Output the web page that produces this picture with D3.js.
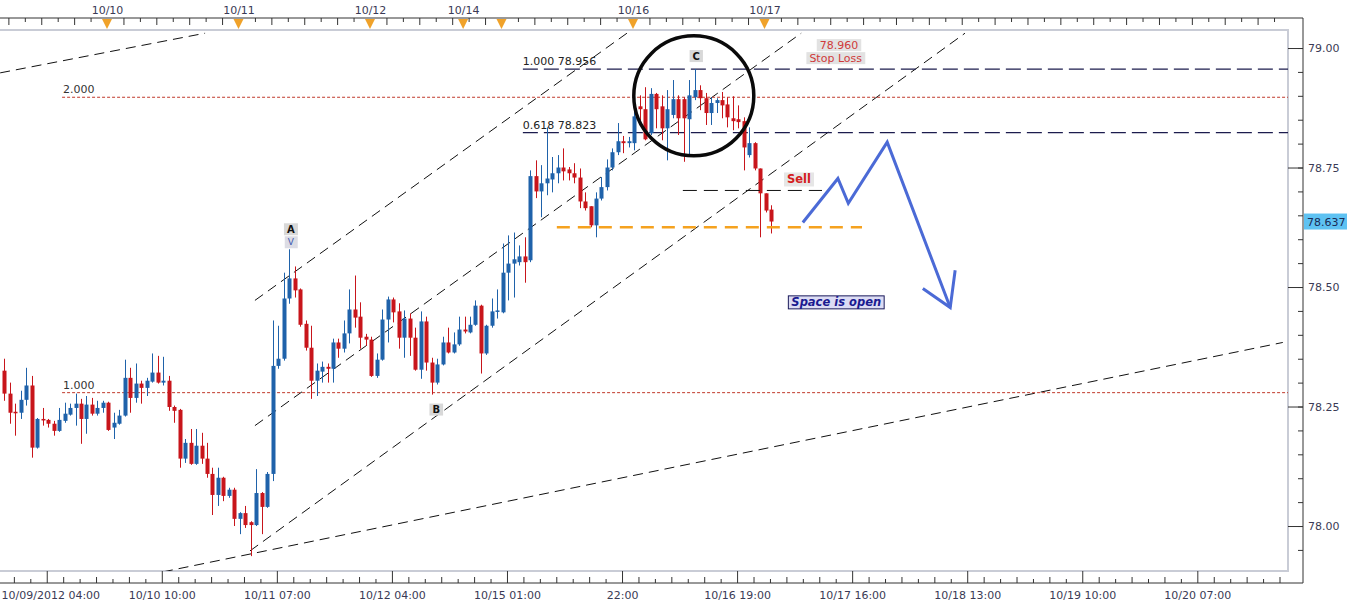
<!DOCTYPE html>
<html><head><meta charset="utf-8">
<script src="https://cdn.jsdelivr.net/npm/d3@7"></script>
<style>
body{margin:0;background:#fff;}
svg{display:block;font-family:"DejaVu Sans",Verdana,sans-serif;}
</style>
</head><body>
<svg id="chart" width="1360" height="608"></svg>
<script>
// ---------------- DATA ----------------
const firstSlot = -19; // hourly slot index of first candle (slot 0 = 10/10 00:00, weekend collapsed)
const openV  = [78.325,78.277,78.239,78.237,78.264,78.294,78.164,78.224,78.222,78.214,78.199,78.220,78.233,78.247,78.256,78.224,78.254,78.235,78.247,
78.258,78.206,78.214,78.231,78.310,78.268,78.298,78.289,78.302,78.321,78.300,78.304,78.249,78.243,78.141,78.174,78.130,78.168,78.141,78.109,
78.065,78.101,78.063,78.076,78.015,78.027,78.008,78.002,78.069,78.040,78.109,78.335,78.350,78.476,78.518,78.495,78.423,78.373,78.304,78.323,
78.333,78.329,78.384,78.371,78.403,78.453,78.438,78.396,78.390,78.314,78.348,78.432,78.474,78.449,78.394,78.434,78.394,78.327,78.428,78.342,
78.300,78.338,78.384,78.363,78.380,78.411,78.405,78.421,78.461,78.361,78.419,78.449,78.447,78.530,78.549,78.552,78.564,78.556,78.732,78.700,
78.717,78.725,78.738,78.750,78.746,78.738,78.729,78.679,78.669,78.629,78.685,78.709,78.750,78.782,78.805,78.801,78.801,78.878,78.872,78.822,
78.904,78.878,78.832,78.860,78.893,78.893,78.851,78.897,78.912,78.895,78.864,78.885,78.891,78.882,78.853,78.851,78.847,78.776,78.801,78.748,
78.696,78.662];
const highV  = [78.350,78.300,78.256,78.283,78.331,78.314,78.226,78.247,78.224,78.220,78.247,78.258,78.256,78.277,78.266,78.272,78.268,78.262,78.262,
78.260,78.237,78.243,78.348,78.331,78.340,78.304,78.310,78.361,78.356,78.354,78.314,78.252,78.245,78.182,78.203,78.203,78.195,78.174,78.122,
78.122,78.103,78.080,78.080,78.029,78.042,78.010,78.119,78.071,78.113,78.430,78.419,78.530,78.579,78.543,78.497,78.430,78.419,78.340,78.344,
78.340,78.392,78.392,78.430,78.495,78.524,78.468,78.402,78.396,78.361,78.453,78.480,78.478,78.466,78.451,78.445,78.415,78.449,78.438,78.352,
78.350,78.396,78.415,78.405,78.438,78.438,78.438,78.472,78.463,78.421,78.476,78.495,78.591,78.608,78.614,78.587,78.604,78.744,78.765,78.755,
78.834,78.772,78.776,78.790,78.751,78.759,78.748,78.698,78.669,78.698,78.730,78.767,78.790,78.843,78.816,78.814,78.874,78.901,78.918,78.916,
78.906,78.901,78.912,78.933,78.901,78.897,78.933,78.956,78.922,78.906,78.897,78.895,78.908,78.897,78.899,78.880,78.855,78.834,78.803,78.748,
78.696,78.671];
const lowV   = [78.262,78.214,78.189,78.224,78.252,78.143,78.162,78.210,78.206,78.189,78.197,78.216,78.231,78.210,78.172,78.193,78.231,78.231,78.237,
78.199,78.182,78.212,78.229,78.237,78.258,78.256,78.272,78.300,78.298,78.294,78.241,78.216,78.122,78.132,78.128,78.128,78.130,78.101,78.023,
78.042,78.052,78.059,78.000,77.983,77.996,77.937,78.000,77.983,78.038,78.094,78.329,78.346,78.465,78.478,78.417,78.367,78.266,78.272,78.300,
78.300,78.300,78.352,78.363,78.382,78.415,78.371,78.377,78.312,78.310,78.346,78.384,78.426,78.371,78.352,78.356,78.325,78.308,78.325,78.275,
78.296,78.336,78.361,78.361,78.377,78.403,78.403,78.419,78.319,78.358,78.415,78.434,78.445,78.472,78.478,78.545,78.509,78.552,78.686,78.646,
78.692,78.698,78.717,78.723,78.723,78.717,78.665,78.660,78.625,78.604,78.681,78.702,78.744,78.776,78.780,78.792,78.786,78.849,78.807,78.818,
78.832,78.807,78.765,78.853,78.818,78.762,78.772,78.891,78.870,78.839,78.839,78.864,78.853,78.834,78.828,78.832,78.744,78.771,78.744,78.604,
78.656,78.612];
const closeV = [78.277,78.237,78.237,78.264,78.294,78.164,78.224,78.222,78.214,78.199,78.222,78.235,78.247,78.256,78.224,78.254,78.235,78.247,78.258,
78.201,78.216,78.231,78.310,78.268,78.298,78.289,78.304,78.321,78.300,78.304,78.249,78.241,78.141,78.174,78.130,78.168,78.141,78.109,78.065,
78.101,78.063,78.076,78.015,78.027,78.002,78.002,78.069,78.040,78.109,78.335,78.350,78.476,78.518,78.493,78.421,78.373,78.304,78.325,78.333,
78.329,78.384,78.371,78.403,78.453,78.436,78.394,78.390,78.314,78.348,78.432,78.474,78.447,78.394,78.434,78.394,78.327,78.428,78.342,78.300,
78.338,78.384,78.363,78.380,78.411,78.407,78.421,78.461,78.361,78.419,78.449,78.451,78.530,78.549,78.558,78.564,78.552,78.732,78.700,78.717,
78.727,78.738,78.750,78.742,78.738,78.729,78.679,78.665,78.629,78.685,78.709,78.750,78.782,78.805,78.801,78.805,78.857,78.872,78.809,78.904,
78.872,78.832,78.872,78.893,78.853,78.853,78.901,78.912,78.895,78.864,78.885,78.891,78.880,78.855,78.847,78.845,78.792,78.801,78.748,78.696,
78.660,78.637];

const priceTicks = [78.00, 78.25, 78.50, 78.75, 79.00];
const lastPrice = 78.637;
const bottomTickSlots  = [-11, 10, 31, 52, 73, 94, 115, 136, 157, 178, 199];
const bottomTickLabels = ["10/09/2012 04:00","10/10 10:00","10/11 07:00","10/12 04:00","10/15 01:00","22:00",
                          "10/16 19:00","10/17 16:00","10/18 13:00","10/19 10:00","10/20 07:00"];
const daySlots  = [0, 24, 48, 65, 72, 96, 120];
const dayLabels = ["10/10","10/11","10/12","10/14","","10/16","10/17"];

// drawn objects (slot, price)
const lineTopLeft   = [[-19.5, 78.948], [17.9, 79.031]];
const channelUpper  = [[27.0, 78.472], [94.9, 79.031]];
const channelMiddle = [[27.0, 78.210], [126.7, 79.031]];
const channelLower  = [[26.1, 77.948], [156.6, 79.031]];
const longTrend     = [[10.2, 77.904], [214.6, 78.384]];
const fibLevels   = [{label:"1.000 78.956", price:78.956, from:75.9}, {label:"0.618 78.823", price:78.823, from:75.9}];
const extLevels   = [{label:"2.000", price:78.897, from:-8.2}, {label:"1.000", price:78.279, from:-8.2}];
const sellLine    = [[105.1, 78.702], [130.5, 78.702]];
const supportLine = [[82.1, 78.625], [137.8, 78.625]];
const circleC     = [107.1, 78.900];
const arrowPath   = [[127.0,78.635],[133.4,78.727],[135.3,78.675],[142.4,78.803],[153.9,78.457]];
const arrowHead   = [[148.9,78.497],[153.9,78.457],[154.8,78.535]];

// ---------------- LAYOUT ----------------
const FONT = "'DejaVu Sans', Verdana, sans-serif";
const W = 1360, H = 608;
const plotL = 0, plotR = 1288, plotT = 31, plotB = 571;
const axisTopY = 18, axisRightX = 1303, axisBottomY = 583;
const candleOffset = 0.25;

const x = d3.scaleLinear().domain([-19.53, 215.55]).range([plotL, plotR]);
const y = d3.scaleLinear().domain([77.9059, 79.0356]).range([plotB, plotT]);

const svg = d3.select("#chart");
svg.append("rect").attr("width", W).attr("height", H).attr("fill", "#fff");

const defs = svg.append("defs");
defs.append("clipPath").attr("id", "clip").append("rect")
  .attr("x", plotL).attr("y", plotT).attr("width", plotR - plotL).attr("height", plotB - plotT);

// plot border
svg.append("rect").attr("x", plotL - 1).attr("y", plotT - 1).attr("width", plotR - plotL + 1).attr("height", plotB - plotT + 1)
  .attr("fill", "none").attr("stroke", "#c9ccd6").attr("stroke-width", 2);

// frame lines
svg.append("line").attr("x1", 0).attr("x2", axisRightX).attr("y1", axisTopY).attr("y2", axisTopY).attr("stroke", "#333").attr("stroke-width", 1);
svg.append("line").attr("x1", axisRightX).attr("x2", axisRightX).attr("y1", axisTopY).attr("y2", axisBottomY).attr("stroke", "#333");
svg.append("line").attr("x1", 0).attr("x2", axisRightX).attr("y1", axisBottomY).attr("y2", axisBottomY).attr("stroke", "#333");

function styleAxis(g) {
  g.attr("font-family", FONT).attr("font-size", 11);
  g.select(".domain").remove();
  g.selectAll("line").attr("stroke", "#333");
  g.selectAll("text").attr("fill", "#3a3a55");
}

// ---- right price axis ----
const minorPrices = d3.range(0, 23).map(i => +(77.90 + i * 0.05).toFixed(2)).filter(v => v > 77.906 && v < 79.035);
const rMinor = svg.append("g").attr("transform", `translate(${axisRightX},0)`)
  .call(d3.axisLeft(y).tickValues(minorPrices).tickSize(5).tickFormat(""));
const rMajor = svg.append("g").attr("transform", `translate(${axisRightX},0)`)
  .call(d3.axisLeft(y).tickValues(priceTicks).tickSize(15).tickFormat(""));
const rLab = svg.append("g").attr("transform", `translate(${axisRightX},0)`)
  .call(d3.axisRight(y).tickValues(priceTicks).tickSize(0).tickPadding(5).tickFormat(d3.format(".2f")));
[rMinor, rMajor, rLab].forEach(styleAxis);

// last price label
const lpY = y(lastPrice);
svg.append("rect").attr("x", axisRightX + 1).attr("y", lpY - 8).attr("width", 43).attr("height", 16).attr("fill", "#5ec2f2");
svg.append("text").attr("x", axisRightX + 4).attr("y", lpY + 4).attr("font-size", 11).attr("font-family", FONT)
  .attr("fill", "#1a2a55").text(lastPrice.toFixed(3));

// ---- bottom axis ----
const bMinorVals = d3.range(-17, 216, 3).filter(s => !bottomTickSlots.includes(s));
const bm1 = svg.append("g").attr("transform", `translate(0,${axisBottomY})`)
  .call(d3.axisTop(x).tickValues(bMinorVals.filter((d, i) => i % 2 === 0)).tickSize(6).tickFormat(""));
const bm2 = svg.append("g").attr("transform", `translate(0,${axisBottomY})`)
  .call(d3.axisTop(x).tickValues(bMinorVals.filter((d, i) => i % 2 === 1)).tickSize(4).tickFormat(""));
const bMaj = svg.append("g").attr("transform", `translate(0,${axisBottomY})`)
  .call(d3.axisTop(x).tickValues(bottomTickSlots).tickSize(12).tickFormat(""));
const bLab = svg.append("g").attr("transform", `translate(0,${axisBottomY})`)
  .call(d3.axisBottom(x).tickValues(bottomTickSlots).tickSize(0).tickPadding(8)
    .tickFormat((d, i) => bottomTickLabels[i]));
[bm1, bm2, bMaj, bLab].forEach(styleAxis);
// keep the first (long) label inside the picture
bLab.selectAll(".tick").filter((d, i) => i === 0).select("text")
  .attr("text-anchor", "start").attr("x", 1 - x(bottomTickSlots[0]));

// ---- top axis ----
const tMinorVals = d3.range(-18, 216, 3).filter(s => !daySlots.includes(s));
const tm1 = svg.append("g").attr("transform", `translate(0,${axisTopY})`)
  .call(d3.axisBottom(x).tickValues(tMinorVals.filter((d, i) => i % 2 === 0)).tickSize(7).tickFormat(""));
const tm2 = svg.append("g").attr("transform", `translate(0,${axisTopY})`)
  .call(d3.axisBottom(x).tickValues(tMinorVals.filter((d, i) => i % 2 === 1)).tickSize(4).tickFormat(""));
const tLab = svg.append("g").attr("transform", `translate(0,${axisTopY})`)
  .call(d3.axisTop(x).tickValues(daySlots).tickSize(0).tickPadding(4).tickFormat((d, i) => dayLabels[i]));
[tm1, tm2, tLab].forEach(styleAxis);
svg.append("g").selectAll("path").data(daySlots).join("path")
  .attr("d", d => `M${x(d) - 5},${axisTopY + 1} L${x(d) + 5},${axisTopY + 1} L${x(d)},${axisTopY + 11} Z`)
  .attr("fill", "#f0a22a");

// ---------------- PLOT CONTENT ----------------
const plot = svg.append("g").attr("clip-path", "url(#clip)").attr("font-family", FONT);

const lineGen = d3.line().x(d => x(d[0])).y(d => y(d[1]));

// sloped dashed lines
[lineTopLeft, channelUpper, channelMiddle, channelLower, longTrend].forEach(pts => {
  plot.append("path").attr("d", lineGen(pts)).attr("fill", "none")
    .attr("stroke", "#111").attr("stroke-width", 1).attr("stroke-dasharray", "10,6");
});

// red dotted extension levels
extLevels.forEach(l => {
  plot.append("line").attr("x1", x(l.from)).attr("x2", plotR).attr("y1", y(l.price)).attr("y2", y(l.price))
    .attr("stroke", "#c0392b").attr("stroke-width", 1).attr("stroke-dasharray", "3,2");
  plot.append("text").attr("x", x(l.from) + 1).attr("y", y(l.price) - 4).attr("font-size", 11).attr("fill", "#333").text(l.label);
});
// navy fib levels
fibLevels.forEach(l => {
  plot.append("line").attr("x1", x(l.from)).attr("x2", plotR).attr("y1", y(l.price)).attr("y2", y(l.price))
    .attr("stroke", "#1c1c4e").attr("stroke-width", 1.3).attr("stroke-dasharray", "15,6");
  plot.append("text").attr("x", x(l.from)).attr("y", y(l.price) - 4).attr("font-size", 11).attr("fill", "#222").text(l.label);
});

// candles
const candles = openV.map((o, i) => ({s: firstSlot + i, o, h: highV[i], l: lowV[i], c: closeV[i]}));
const upCol = "#1f62aa", downCol = "#c8151b";
const cg = plot.append("g");
cg.selectAll("line.w").data(candles).join("line").attr("class", "w")
  .attr("x1", d => Math.round(x(d.s + candleOffset)) + 0.5).attr("x2", d => Math.round(x(d.s + candleOffset)) + 0.5)
  .attr("y1", d => y(d.h)).attr("y2", d => y(d.l))
  .attr("stroke", d => d.c >= d.o ? upCol : downCol).attr("stroke-width", 1);
cg.selectAll("rect.b").data(candles).join("rect").attr("class", "b")
  .attr("x", d => Math.round(x(d.s + candleOffset)) - 1.5)
  .attr("width", 4)
  .attr("y", d => y(Math.max(d.o, d.c)))
  .attr("height", d => Math.max(1.5, Math.abs(y(d.o) - y(d.c))))
  .attr("fill", d => d.c >= d.o ? upCol : downCol);

// sell line & support
plot.append("path").attr("d", lineGen(sellLine)).attr("stroke", "#111").attr("stroke-width", 1).attr("stroke-dasharray", "14,7").attr("fill", "none");
plot.append("path").attr("d", lineGen(supportLine)).attr("stroke", "#f5a21f").attr("stroke-width", 2.5).attr("stroke-dasharray", "13,8").attr("fill", "none");

// circle
plot.append("circle").attr("cx", x(circleC[0])).attr("cy", y(circleC[1])).attr("r", 60)
  .attr("fill", "none").attr("stroke", "#0a0a0a").attr("stroke-width", 3.5);

// blue arrow
plot.append("path").attr("d", lineGen(arrowPath)).attr("fill", "none").attr("stroke", "#4b6ad6")
  .attr("stroke-width", 3).attr("stroke-linejoin", "miter");
plot.append("path").attr("d", lineGen(arrowHead)).attr("fill", "none").attr("stroke", "#4b6ad6")
  .attr("stroke-width", 3).attr("stroke-linejoin", "miter");

// text boxes
function boxLabel(cx, cy, txt, opt) {
  const g = plot.append("g");
  const t = g.append("text").attr("x", cx).attr("y", cy).attr("text-anchor", "middle").attr("dominant-baseline", "central")
    .attr("font-size", opt.size || 11).attr("font-weight", opt.weight || "normal").attr("font-style", opt.style || "normal")
    .attr("fill", opt.color || "#111").text(txt);
  const bb = t.node().getBBox();
  g.insert("rect", "text").attr("x", bb.x - (opt.padX || 3)).attr("y", cy - (opt.h || 12) / 2)
    .attr("width", bb.width + 2 * (opt.padX || 3)).attr("height", opt.h || 12)
    .attr("fill", opt.fill || "#dcdcdc").attr("stroke", opt.stroke || "none").attr("stroke-width", 1);
}
boxLabel(x(107) + 3, y(78.956) - 13, "C", {weight: "bold", size: 10, fill: "#d8d8d8"});
boxLabel(x(33) + 3, y(78.579) - 20, "A", {weight: "bold", size: 10, fill: "#d8d8d8"});
boxLabel(x(33) + 3, y(78.579) - 7, "V", {size: 9, color: "#3c58b0", fill: "#dcdce4"});
boxLabel(x(59) + 6, y(78.275) + 15, "B", {weight: "bold", size: 10, fill: "#d8d8d8"});
boxLabel(x(133.6), y(78.960) - 22, "78.960", {size: 11, color: "#d03a3a", fill: "#e2e2e2"});
boxLabel(x(133.0), y(78.960) - 9, "Stop Loss", {size: 11, color: "#d03a3a", fill: "#e2e2e2"});
boxLabel(x(126.3), y(78.702) - 11, "Sell", {size: 11.5, weight: "bold", color: "#d42020", fill: "#e6e6e6", h: 14});
boxLabel(x(133.1), y(78.470) + 1, "Space is open", {size: 11.5, weight: "bold", style: "italic", color: "#1a1a90", fill: "#dcdcf4", stroke: "#1a1a5a", h: 13, padX: 3});
</script>
</body></html>
